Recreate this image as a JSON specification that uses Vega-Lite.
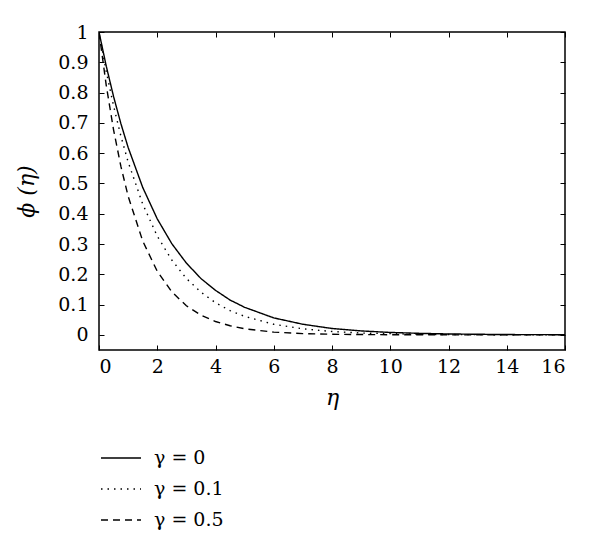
{
  "$schema": "https://vega.github.io/schema/vega-lite/v6.json",
  "autosize": {"type": "none"},
  "padding": {"left": 99, "top": 32, "right": 35, "bottom": 200},
  "width": 466,
  "height": 318,
  "background": "white",
  "config": {
    "view": {"stroke": "black", "strokeWidth": 1.5},
    "font": "DejaVu Serif",
    "axis": {"labelFont": "DejaVu Serif", "titleFont": "DejaVu Serif", "labelColor": "black", "titleColor": "black", "tickColor": "black", "domainColor": "black", "grid": false},
    "legend": {"labelFont": "DejaVu Serif"}
  },
  "data": {"values": [
    {"eta": 0, "phi": 1, "g": "γ = 0"},
    {"eta": 0.25, "phi": 0.887, "g": "γ = 0"},
    {"eta": 0.5, "phi": 0.787, "g": "γ = 0"},
    {"eta": 0.75, "phi": 0.698, "g": "γ = 0"},
    {"eta": 1, "phi": 0.619, "g": "γ = 0"},
    {"eta": 1.5, "phi": 0.487, "g": "γ = 0"},
    {"eta": 2, "phi": 0.383, "g": "γ = 0"},
    {"eta": 2.5, "phi": 0.301, "g": "γ = 0"},
    {"eta": 3, "phi": 0.237, "g": "γ = 0"},
    {"eta": 3.5, "phi": 0.186, "g": "γ = 0"},
    {"eta": 4, "phi": 0.147, "g": "γ = 0"},
    {"eta": 4.5, "phi": 0.115, "g": "γ = 0"},
    {"eta": 5, "phi": 0.091, "g": "γ = 0"},
    {"eta": 6, "phi": 0.056, "g": "γ = 0"},
    {"eta": 7, "phi": 0.035, "g": "γ = 0"},
    {"eta": 8, "phi": 0.021, "g": "γ = 0"},
    {"eta": 9, "phi": 0.013, "g": "γ = 0"},
    {"eta": 10, "phi": 0.008, "g": "γ = 0"},
    {"eta": 11, "phi": 0.005, "g": "γ = 0"},
    {"eta": 12, "phi": 0.003, "g": "γ = 0"},
    {"eta": 13, "phi": 0.002, "g": "γ = 0"},
    {"eta": 14, "phi": 0.001, "g": "γ = 0"},
    {"eta": 16, "phi": 0.0005, "g": "γ = 0"},
    {"eta": 0, "phi": 1, "g": "γ = 0.1"},
    {"eta": 0.25, "phi": 0.869, "g": "γ = 0.1"},
    {"eta": 0.5, "phi": 0.756, "g": "γ = 0.1"},
    {"eta": 0.75, "phi": 0.657, "g": "γ = 0.1"},
    {"eta": 1, "phi": 0.571, "g": "γ = 0.1"},
    {"eta": 1.5, "phi": 0.432, "g": "γ = 0.1"},
    {"eta": 2, "phi": 0.326, "g": "γ = 0.1"},
    {"eta": 2.5, "phi": 0.247, "g": "γ = 0.1"},
    {"eta": 3, "phi": 0.186, "g": "γ = 0.1"},
    {"eta": 3.5, "phi": 0.141, "g": "γ = 0.1"},
    {"eta": 4, "phi": 0.106, "g": "γ = 0.1"},
    {"eta": 4.5, "phi": 0.08, "g": "γ = 0.1"},
    {"eta": 5, "phi": 0.061, "g": "γ = 0.1"},
    {"eta": 6, "phi": 0.035, "g": "γ = 0.1"},
    {"eta": 7, "phi": 0.02, "g": "γ = 0.1"},
    {"eta": 8, "phi": 0.011, "g": "γ = 0.1"},
    {"eta": 9, "phi": 0.006, "g": "γ = 0.1"},
    {"eta": 10, "phi": 0.004, "g": "γ = 0.1"},
    {"eta": 11, "phi": 0.002, "g": "γ = 0.1"},
    {"eta": 12, "phi": 0.001, "g": "γ = 0.1"},
    {"eta": 14, "phi": 0.0004, "g": "γ = 0.1"},
    {"eta": 16, "phi": 0.0001, "g": "γ = 0.1"},
    {"eta": 0, "phi": 1, "g": "γ = 0.5"},
    {"eta": 0.25, "phi": 0.823, "g": "γ = 0.5"},
    {"eta": 0.5, "phi": 0.677, "g": "γ = 0.5"},
    {"eta": 0.75, "phi": 0.557, "g": "γ = 0.5"},
    {"eta": 1, "phi": 0.458, "g": "γ = 0.5"},
    {"eta": 1.5, "phi": 0.31, "g": "γ = 0.5"},
    {"eta": 2, "phi": 0.21, "g": "γ = 0.5"},
    {"eta": 2.5, "phi": 0.142, "g": "γ = 0.5"},
    {"eta": 3, "phi": 0.096, "g": "γ = 0.5"},
    {"eta": 3.5, "phi": 0.065, "g": "γ = 0.5"},
    {"eta": 4, "phi": 0.044, "g": "γ = 0.5"},
    {"eta": 4.5, "phi": 0.03, "g": "γ = 0.5"},
    {"eta": 5, "phi": 0.02, "g": "γ = 0.5"},
    {"eta": 6, "phi": 0.009, "g": "γ = 0.5"},
    {"eta": 7, "phi": 0.004, "g": "γ = 0.5"},
    {"eta": 8, "phi": 0.002, "g": "γ = 0.5"},
    {"eta": 9, "phi": 0.001, "g": "γ = 0.5"},
    {"eta": 10, "phi": 0.0004, "g": "γ = 0.5"},
    {"eta": 12, "phi": 0.0001, "g": "γ = 0.5"},
    {"eta": 14, "phi": 0, "g": "γ = 0.5"},
    {"eta": 16, "phi": 0, "g": "γ = 0.5"}
  ]},
  "layer": [
    {
      "mark": {"type": "line", "color": "black", "strokeWidth": 1.4, "clip": true},
      "encoding": {
        "x": {"field": "eta", "type": "quantitative", "scale": {"domain": [0, 16], "nice": false},
          "axis": {"orient": "bottom", "values": [0,2,4,6,8,10,12,14,16], "format": "d", "tickSize": -5, "labelFontSize": 19, "labelPadding": 12, "title": "η", "titleFontSize": 22, "titleFontStyle": "italic", "titleFontWeight": "normal", "titlePadding": 11, "domain": false}},
        "y": {"field": "phi", "type": "quantitative", "scale": {"domain": [-0.05, 1], "nice": false, "zero": false},
          "axis": {"orient": "left", "values": [0,0.1,0.2,0.3,0.4,0.5,0.6,0.7,0.8,0.9,1], "format": ".1~f", "tickSize": -5, "labelFontSize": 19, "labelPadding": 16, "title": "ϕ (η)", "titleFontSize": 22, "titleFontStyle": "italic", "titleFontWeight": "normal", "titlePadding": 19, "domain": false}},
        "strokeDash": {"field": "g", "type": "nominal",
          "scale": {"domain": ["γ = 0", "γ = 0.1", "γ = 0.5"], "range": [[1, 0], [1.5, 5], [7, 5]]},
          "legend": {"orient": "none", "legendX": 1, "legendY": 405, "title": null, "symbolType": "stroke", "symbolSize": 1600, "symbolStrokeWidth": 1.4, "symbolStrokeColor": "black", "labelFontSize": 19, "labelColor": "black", "labelOffset": 12, "rowPadding": -10}},
        "detail": {"field": "g"}
      }
    },
    {
      "mark": {"type": "line", "opacity": 0},
      "encoding": {
        "x": {"field": "eta", "type": "quantitative", "axis": {"orient": "top", "values": [0,2,4,6,8,10,12,14,16], "tickSize": -5, "labels": false, "title": null, "domain": false}},
        "y": {"field": "phi", "type": "quantitative", "axis": {"orient": "right", "values": [0,0.1,0.2,0.3,0.4,0.5,0.6,0.7,0.8,0.9,1], "tickSize": -5, "labels": false, "title": null, "domain": false}},
        "detail": {"field": "g"}
      }
    }
  ],
  "resolve": {"axis": {"x": "independent", "y": "independent"}}
}
